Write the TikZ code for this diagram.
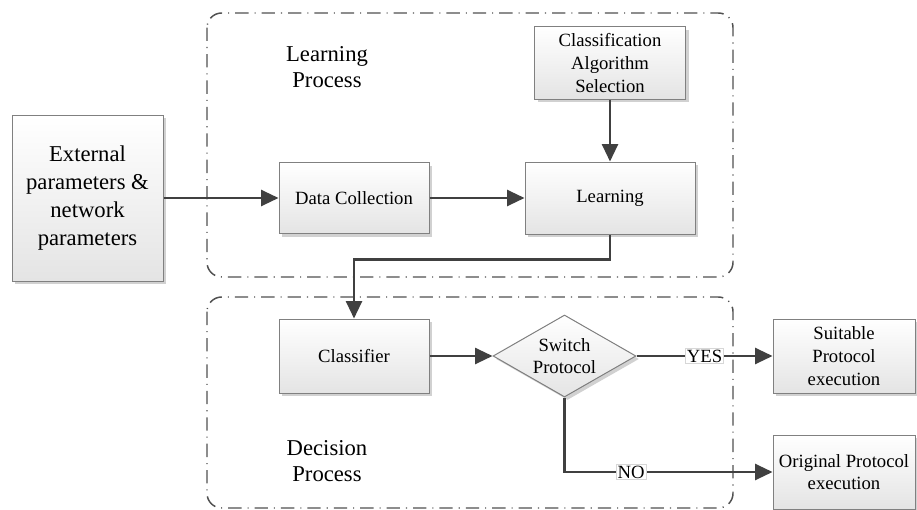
\documentclass[tikz,border=0pt]{standalone}
\usepackage{fontspec}
\setmainfont{Liberation Serif}
\usetikzlibrary{arrows.meta,shapes.geometric,shadows}

\tikzset{every picture/.style={line width=0.75pt}}
\tikzset{
  procbox/.style={draw={rgb, 255:red, 128; green, 128; blue, 128 }, line width=0.75pt,
    top color=white, bottom color={rgb, 255:red, 228; green, 228; blue, 228 },
    drop shadow={shadow xshift=2.25pt, shadow yshift=-2.25pt, fill={rgb, 255:red, 190; green, 190; blue, 190 }, opacity=0.7},
    align=center, inner sep=0.75pt, font=\rmfamily\fontsize{14}{17}\selectfont},
  decbox/.style={procbox, diamond, aspect=1.75, inner sep=0pt},
  flow/.style={draw={rgb, 255:red, 64; green, 64; blue, 64 }, line width=1.6pt, -{Triangle[length=13pt,width=12pt]}},
  region/.style={draw={rgb, 255:red, 80; green, 80; blue, 80 }, line width=1.1pt, rounded corners=11pt,
    dash pattern=on 10pt off 4.5pt on 0.8pt off 4.5pt},
  tag/.style={fill=white, draw={rgb, 255:red, 215; green, 215; blue, 215 }, line width=0.4pt, inner sep=1pt, font=\rmfamily\fontsize{14}{17}\selectfont},
  grplbl/.style={align=center, inner sep=0.75pt, font=\rmfamily\fontsize{17}{20}\selectfont}
}

\begin{document}
\begin{tikzpicture}[x=0.75pt,y=0.75pt,yscale=-1,xscale=1]
\useasboundingbox (0,0) rectangle (917,510);

%Rounded Rect (learning process)
\draw [region] (207,13) rectangle (733,277) ;
%Rounded Rect (decision process)
\draw [region] (207,297) rectangle (733,508) ;

% Text Node
\node [grplbl] (lrnlbl) at (327,67) {Learning\\Process};
% Text Node
\node [grplbl] (declbl) at (327,461) {Decision\\Process};

%Flowchart: Process
\node [procbox, minimum width=113.25pt, minimum height=124.5pt, font=\rmfamily\fontsize{17}{21}\selectfont] (ext) at (87.5,198) {External\\parameters \&\\network\\parameters};
%Flowchart: Process
\node [procbox, minimum width=112.5pt, minimum height=53.25pt] (dc) at (354,198) {Data Collection};
%Flowchart: Process
\node [procbox, minimum width=127.5pt, minimum height=54pt] (learn) at (610,198) {Learning};
%Flowchart: Process
\node [procbox, minimum width=113.25pt, minimum height=54pt] (cas) at (610,63) {Classification\\Algorithm\\Selection};
%Flowchart: Process
\node [procbox, minimum width=112.5pt, minimum height=55.5pt] (cls) at (354,356) {Classifier};
%Flowchart: Decision
\node [decbox, minimum width=107.25pt, minimum height=61.5pt] (sw) at (564.5,356) {Switch\\Protocol};
%Flowchart: Process
\node [procbox, minimum width=106.5pt, minimum height=55.5pt] (suit) at (844,356) {Suitable\\Protocol\\execution};
%Flowchart: Process
\node [procbox, minimum width=106.5pt, minimum height=55.5pt] (orig) at (844,472) {Original Protocol\\execution};

%Straight Lines
\draw [flow] (ext) -- (dc) ;
\draw [flow] (dc) -- (learn) ;
\draw [flow] (cas) -- (learn) ;
\draw [flow] (learn.south) -- ++(0,25) -| (cls.north) ;
\draw [flow] (cls) -- (sw) ;
\draw [flow] (sw) -- node [tag] (yes) {YES} (suit) ;
\draw [flow] (sw.south) |- node [tag, pos=0.66] (no) {NO} (orig) ;

\end{tikzpicture}
\end{document}
